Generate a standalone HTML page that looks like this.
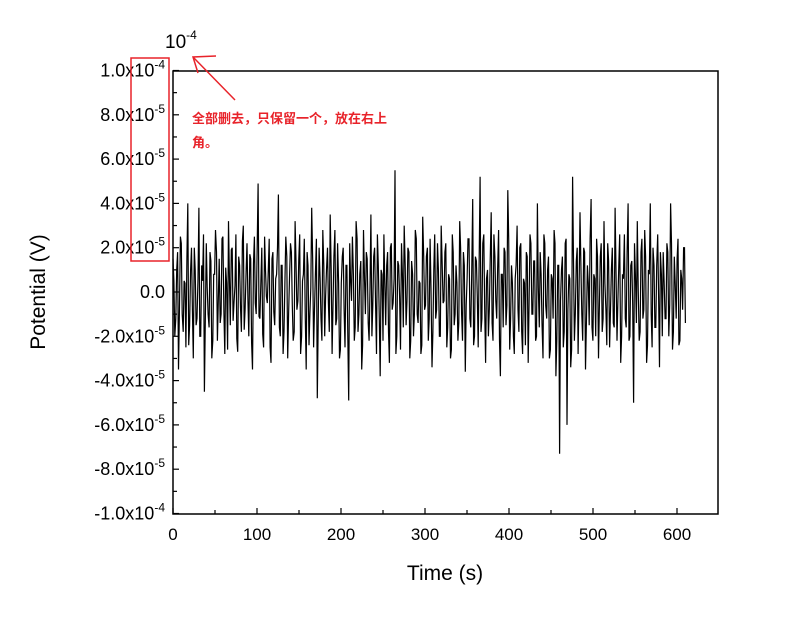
<!DOCTYPE html>
<html><head><meta charset="utf-8"><style>
body{margin:0;background:#fff;width:800px;height:617px;overflow:hidden}
svg text{font-family:"Liberation Sans","Noto Sans CJK SC",sans-serif}
</style></head><body>
<svg id="chart" width="800" height="617">
<g id="plot"></g>
<rect x="173" y="71" width="545" height="443" fill="none" stroke="#000" stroke-width="1.5"/>
<g id="axes"></g>
<text x="165" y="48" font-size="19">10<tspan dy="-9" font-size="12">-4</tspan></text>
<text x="445" y="580" font-size="21" text-anchor="middle">Time (s)</text>
<text transform="translate(45,292) rotate(-90)" font-size="21" text-anchor="middle">Potential (V)</text>
<rect x="131" y="58" width="38" height="203" fill="none" stroke="#e8232a" stroke-width="1.5"/>
<line x1="235" y1="100" x2="193" y2="57" stroke="#e8232a" stroke-width="1.5"/>
<polyline points="216,56 193,57 198,73" fill="none" stroke="#e8232a" stroke-width="1.5"/>
<text x="192" y="123" font-size="13" font-weight="bold" fill="#e8232a">全部删去，只保留一个，放在右上</text>
<text x="192" y="147" font-size="13" font-weight="bold" fill="#e8232a">角。</text>
</svg>
<script>
const xTicks=[0,100,200,300,400,500,600];
const yTicks=[-10,-8,-6,-4,-2,0,2,4,6,8,10];
const yLabels=["-1.0x10","-8.0x10","-6.0x10","-4.0x10","-2.0x10","0.0","2.0x10","4.0x10","6.0x10","8.0x10","1.0x10"];
const yExps=["-4","-5","-5","-5","-5","","-5","-5","-5","-5","-4"];
const values=[1.5,-2,1,-3.5,2.5,-1,0.5,-2.5,4,-1.5,2,-3,1,-1.2,3.8,-2,0.5,-4.5,2.2,-1,1.8,-3,0.8,2.8,-2.2,1.5,-1,2.5,-2.8,0.4,3.2,-1.5,2,-0.5,2.6,-2.7,1.2,-1.8,3,-0.8,2.2,-2,1.5,-3.5,2.5,-1,4.9,-1.2,2,-2.5,1,-0.5,2.4,-3.2,1.8,-1.5,0.8,4.4,-2,1.2,-1.8,2.5,-3,0.6,1.8,-2.2,3.2,-0.8,1.5,-2.8,0.5,2.4,-3.5,1.2,-1,3.8,-2.5,0.8,-4.8,2,-1.2,2.8,-2,1,-0.5,3.5,-2.8,1.6,-1.5,2.2,-3,0.4,2,-2.5,1.2,-4.9,0.5,2.5,-2.2,3.2,-1.8,0.8,-3.5,2.8,-1,1.5,-2.2,3.5,-0.6,2,-2.8,1.2,-3.8,0.8,2.6,-1.5,1.8,-3.2,2.2,-0.5,5.5,-2,1.2,-2.6,0.8,3,-1.5,2,-3,1.4,-2,2.8,-1,0.5,-2.8,3.4,-0.8,1.6,-2.2,2.4,-3.4,1,-1.2,2.2,-2,3,-0.5,1.8,-2.5,0.8,-3,2.6,-1.5,1.2,-2.2,3.2,-1,1.8,-3.6,0.6,2.4,-1.6,4.2,-2,1.4,-2.5,5.2,-1.2,2.6,-3.2,1,-0.8,3.6,-2.2,1.6,-1.2,2.8,-3.8,0.8,2,-1.5,4.6,-2.6,1.2,-2,0.6,3,-1.8,2.2,-2.8,0.4,1.8,-3.2,2.6,-1,1.4,-2.2,4,-1.6,0.8,-3,2.2,-1.2,1.6,-2.6,0.6,2.8,-3.8,1.2,-7.3,1,-2.5,2.2,-6,0.8,-3.4,5.2,-2.2,1.4,-2.8,3.6,-1,2,-3.5,1.2,-1.5,4.2,-2.2,0.6,2.4,-3,1.6,-1.8,3.2,-0.8,2.2,-2.5,1,-1.4,3.8,-2.2,1.2,-3.2,0.8,2.6,-1.6,4,-2,1.4,-5,0.6,3.2,-2.2,1.8,-1.2,2.8,-3.2,1,4,-2.5,1.2,-1.6,2.6,-3.4,0.8,1.8,-1.2,2.2,-2,4,-2.6,1.6,-1.2,2.4,-2.2,0.6,2,-1.4];
const fill=[0.5,-1.2,1.8,-0.6,2.2,-1.8,0.4,1.5,-2.4,1,-0.8,2,-1.5,0.6,-2,1.2,2.6,-1,0.2,-1.6,1.4,-2.2,0.8,1.8,-0.4,-1.4,2.4,-0.9,1.1,-2.6,0.7,1.9,-1.3,0.3,-2.1,1.6,-0.7,2.3,-1.7,0.9,-0.3,1.7,-2.3,1.3,-0.5,2.1,-1.1,0.5,-1.9,2.5,-0.2,1,-2.5,1.5,-0.9,0.6,2,-1.6,1.2,-2.8,0.4,1.6,-1,2.2,-0.6,-1.8,1.4,-0.4,2.6,-2,0.8,-1.2,1.8,-2.4,0.2,1.4,-0.8,2.4,-1.4,0.6,-2.2,1.2,-0.2,2,-1.8,1,-0.6,2.8,-1.2,0.4,-2.6,1.6,-0.8,1.2,-2,2.2,-0.4,0.8,-1.6,2.4,-1,1.4,-2.4,0.6,1.8,-1.4,0.2,-2,1.6,-0.6,2.6,-1.2,1,-2.2,0.4,1.2,-1.8,2,-0.8,0.6,-2.8,1.4,-0.2,2.2,-1.6,1.2,-0.4,1.8,-2.2,0.8,-1,2.4,-1.4,0.4,-2.4,1.6,-0.6,2,-1.2,0.2,-1.8,2.6,-0.8,1,-2,1.4,-0.4,2.2,-1.6,0.6,-2.6,1.8,-1,0.4,-1.4,2,-2.2,1.2,-0.6,2.4,-1.2,0.8,-2.4,1.6,-0.2,1.2,-1.8,2.2,-0.8,0.6,-2,1.4,-1.4,2.6,-0.4,1,-2.2,0.8,-1.6,1.8,-0.6,2.4,-1.2,0.4,-2.8,1.2,-0.8,2,-1.8,0.6,-2.4,1.6,-0.4,2.2,-1,1.4,-2,0.2,1.8,-1.4,2.6,-0.6,1,-3,0.8,-1.2,2.2,-2.2,1.2,-0.4,1.6,-1.8,2.4,-0.8,0.6,-2.6,1.4,-1,2,-0.2,1.2,-2.2,1.8,-1.4,0.4,2.4,-1.6,0.8,-2,1.6,-0.6,2.2,-1.2,0.4,-2.4,1.4,-0.8,2,-1.6,1,-0.4,2.6,-2,0.6,-1.2,1.8,-2.2,1.2,-0.6,2.2,-1.4,0.2,-1.8,2.4,-0.8,1.6,-2.4,0.8,-1,2,-1.6,1.2,-0.2,1.8,-2];
const X0=173,XS=84/100,Y0=292,YS=22.15;
const xs=t=>X0+t*XS, ys=v=>Y0-v*YS;
const NS="http://www.w3.org/2000/svg";
const plot=document.getElementById('plot'),axes=document.getElementById('axes');
const series=[];
values.forEach((v,i)=>{series.push(v);if(i<values.length-1)series.push(fill[i%fill.length]);});
const n=series.length, tMax=610;
let d='';
series.forEach((v,i)=>{const t=i*tMax/(n-1);d+=(i?'L':'M')+xs(t).toFixed(1)+','+ys(v).toFixed(1);});
const p=document.createElementNS(NS,'path');
p.setAttribute('d',d);p.setAttribute('fill','none');p.setAttribute('stroke','#000');p.setAttribute('stroke-width','1.2');


plot.appendChild(p);
function ln(x1,y1,x2,y2){const l=document.createElementNS(NS,'line');l.setAttribute('x1',x1);l.setAttribute('y1',y1);l.setAttribute('x2',x2);l.setAttribute('y2',y2);l.setAttribute('stroke','#000');l.setAttribute('stroke-width','1.2');axes.appendChild(l);return l;}
xTicks.forEach(t=>{
 ln(xs(t),514,xs(t),508);
 const tx=document.createElementNS(NS,'text');tx.setAttribute('x',xs(t));tx.setAttribute('y',540);tx.setAttribute('font-size','17');tx.setAttribute('text-anchor','middle');tx.textContent=t;
 
 
 axes.appendChild(tx);
 if(t+50<=648) ln(xs(t+50),514,xs(t+50),510);
});
yTicks.forEach((v,i)=>{
 ln(173,ys(v),179,ys(v));
 if(v<10) ln(173,ys(v+1),177,ys(v+1));
 const tx=document.createElementNS(NS,'text');tx.setAttribute('x',165);tx.setAttribute('y',ys(v)+6);tx.setAttribute('font-size','18');tx.setAttribute('text-anchor','end');
 tx.textContent=yLabels[i];
 if(yExps[i]){const s=document.createElementNS(NS,'tspan');s.setAttribute('dy','-8');s.setAttribute('font-size','12');s.textContent=yExps[i];tx.appendChild(s);}
 
 
 axes.appendChild(tx);
});
</script>
</body></html>
